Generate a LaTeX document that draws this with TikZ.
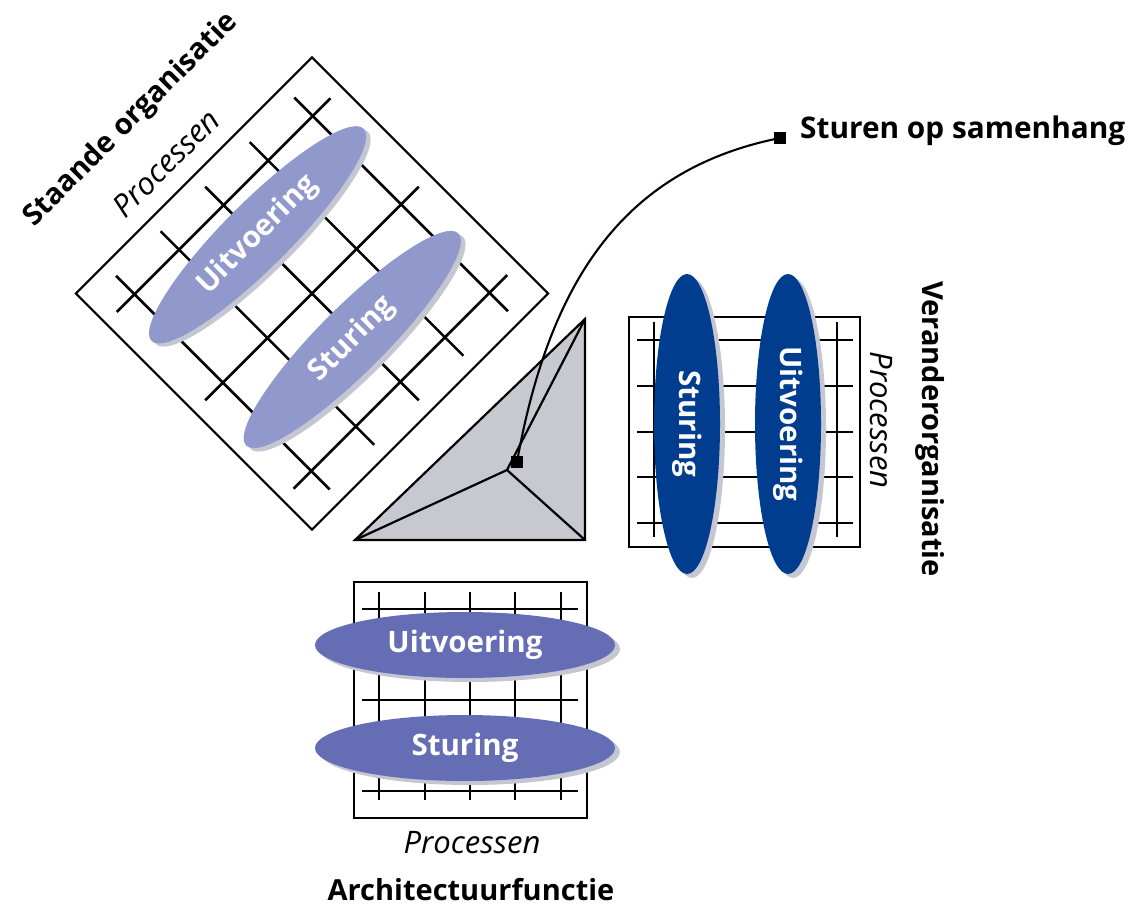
\documentclass[tikz,border=0pt]{standalone}
\usepackage{fontspec}
\setmainfont{Open Sans}
\usetikzlibrary{shapes.geometric}
\definecolor{lightell}{RGB}{145,152,204}
\definecolor{midell}{RGB}{101,109,181}
\definecolor{darkell}{RGB}{0,61,143}
\definecolor{shadowc}{RGB}{196,198,210}
\definecolor{trifill}{RGB}{200,200,208}
\begin{document}
\begin{tikzpicture}[x=1pt,y=-1pt,
  gridline/.style={line width=2.6pt, black},
  frame/.style={line width=2.2pt, black},
  ellbase/.style={ellipse, inner sep=0pt, minimum width=300pt, minimum height=66pt},
  shade/.style={ellbase, fill=shadowc},
  elltext/.style={ellbase, text=white, font=\fontsize{29.5}{34}\selectfont\bfseries},
  label/.style={font=\fontsize{29}{34}\selectfont\bfseries, inner sep=0pt},
  proc/.style={font=\fontsize{31}{36}\selectfont\itshape, inner sep=0pt},
  marker/.style={rectangle, fill=black, minimum size=12pt, inner sep=0pt}
]
\useasboundingbox (0,0) rectangle (1134,916);

% ---------- diamond grid (Staande organisatie) ----------
\begin{scope}[shift={(312,293.5)}, rotate=45]
  \draw[frame] (-167,-167) rectangle (167,167);
  \foreach \v in {-125,0,125} \draw[gridline] (-151,\v) -- (151,\v);
  \foreach \u in {-126,-63,0,63,126} \draw[gridline] (\u,-151) -- (\u,151);
\end{scope}
\node[shade, rotate=45] (dUs) at (262,238) {};
\node[elltext, fill=lightell, rotate=45] (dU) at (257.6,234.8) {Uitvoering};
\node[shade, rotate=45] (dSs) at (357,343) {};
\node[elltext, fill=lightell, rotate=45] (dS) at (352.3,339.5) {Sturing};
\node[label, rotate=45] (staande) at (131,120) {Staande organisatie};
\node[proc, rotate=45] (dproc) at (166,163) {Processen};

% ---------- right grid (Veranderorganisatie) ----------
\draw[frame] (629,317) rectangle (860,547);
\foreach \y in {340,386,432,477,523} \draw[gridline] (637,\y) -- (853,\y);
\foreach \x in {654,837} \draw[gridline] (\x,322) -- (\x,537);
\node[shade, rotate=-90] (rSs) at (692,428) {};
\node[elltext, fill=darkell, rotate=-90] (rS) at (687,424) {Sturing};
\node[shade, rotate=-90] (rUs) at (793,428) {};
\node[elltext, fill=darkell, rotate=-90] (rU) at (788,424) {Uitvoering};
\node[proc, rotate=-90] (rproc) at (881,420) {Processen};
\node[label, rotate=-90] (verander) at (930,429) {Veranderorganisatie};

% ---------- bottom grid (Architectuurfunctie) ----------
\draw[frame] (354,582) rectangle (587,818);
\foreach \y in {609,700,791} \draw[gridline] (362,\y) -- (578,\y);
\foreach \x in {379,425,470,515,561} \draw[gridline] (\x,592) -- (\x,800);
\node[shade] (bUs) at (470,649) {};
\node[elltext, fill=midell] (bU) at (465,645) {Uitvoering};
\node[shade] (bSs) at (470,752) {};
\node[elltext, fill=midell] (bS) at (465,748) {Sturing};
\node[proc] (bproc) at (472,843) {Processen};
\node[label] (archi) at (471,890) {Architectuurfunctie};

% ---------- central triangle ----------
\coordinate (T) at (585,319);
\coordinate (BL) at (355,540);
\coordinate (BR) at (585,540);
\coordinate (I) at (507,470);
\fill[trifill] (T) -- (BL) -- (BR) -- cycle;
\draw[frame, line join=miter] (T) -- (BL) -- (BR) -- cycle;
\draw[frame] (I) -- (T) (I) -- (BL) (I) -- (BR);

% ---------- Sturen op samenhang ----------
\coordinate (pA) at (517,462);
\coordinate (pB) at (780,138);
\draw[line width=2.1pt] (pA) .. controls (551,272) and (630,168) .. (pB);
\node[marker] (sqA) at (pA) {};
\node[marker] (sqB) at (pB) {};
\node[label, anchor=west, font=\fontsize{29.8}{34}\selectfont\bfseries] (sturen) at (800,131) {Sturen op samenhang};
\end{tikzpicture}
\end{document}
